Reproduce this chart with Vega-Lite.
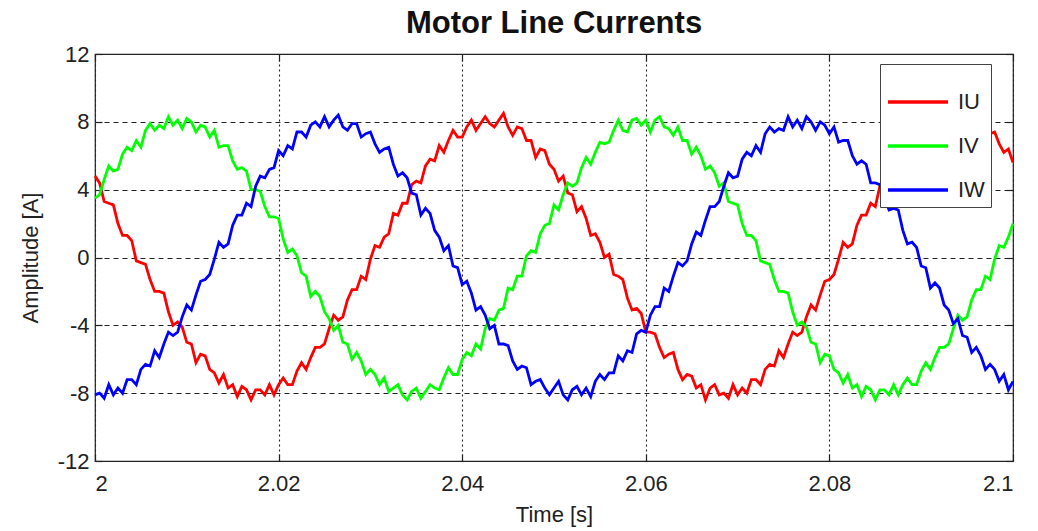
{
"$schema":"https://vega.github.io/schema/vega-lite/v6.json",
"width":918,"height":407,
"autosize":"none",
"padding":{"left":95,"top":54,"right":25,"bottom":70},
"background":"white",
"title":{"text":"Motor Line Currents","fontSize":31,"fontWeight":"bold","font":"Liberation Sans","color":"#111","offset":3,"anchor":"middle"},
"config":{
"view":{"stroke":"#222","strokeWidth":1.2},
"axis":{"labelFont":"Liberation Sans","labelFontSize":22,"labelColor":"#222","titleFont":"Liberation Sans","titleFontSize":22,"titleFontWeight":"normal","titleColor":"#222","gridColor":"#222","gridWidth":1.1,"gridOpacity":1,"tickColor":"#222","tickSize":-7,"tickWidth":1.2,"domain":false}
},
"data":{"values":[
{"t":2,"p":"IU","a":4.8},{"t":2.0005,"p":"IU","a":4.4},{"t":2.001,"p":"IU","a":3.3},{"t":2.0015,"p":"IU","a":3.2},{"t":2.002,"p":"IU","a":3.1},{"t":2.0025,"p":"IU","a":2.0},{"t":2.003,"p":"IU","a":1.3},{"t":2.0035,"p":"IU","a":1.3},{"t":2.004,"p":"IU","a":1.0},{"t":2.0045,"p":"IU","a":-0.2},
{"t":2.005,"p":"IU","a":-0.3},{"t":2.0055,"p":"IU","a":-0.4},{"t":2.006,"p":"IU","a":-1.3},{"t":2.0065,"p":"IU","a":-2.0},{"t":2.007,"p":"IU","a":-2.0},{"t":2.0075,"p":"IU","a":-2.1},{"t":2.008,"p":"IU","a":-3.2},{"t":2.0085,"p":"IU","a":-4.0},{"t":2.009,"p":"IU","a":-3.8},{"t":2.0095,"p":"IU","a":-4.1},
{"t":2.01,"p":"IU","a":-5.0},{"t":2.0105,"p":"IU","a":-5.1},{"t":2.011,"p":"IU","a":-6.2},{"t":2.0115,"p":"IU","a":-5.7},{"t":2.012,"p":"IU","a":-5.8},{"t":2.0125,"p":"IU","a":-6.6},{"t":2.013,"p":"IU","a":-6.8},{"t":2.0135,"p":"IU","a":-7.4},{"t":2.014,"p":"IU","a":-6.9},{"t":2.0145,"p":"IU","a":-7.7},
{"t":2.015,"p":"IU","a":-7.5},{"t":2.0155,"p":"IU","a":-8.2},{"t":2.016,"p":"IU","a":-7.6},{"t":2.0165,"p":"IU","a":-7.8},{"t":2.017,"p":"IU","a":-8.4},{"t":2.0175,"p":"IU","a":-7.8},{"t":2.018,"p":"IU","a":-7.8},{"t":2.0185,"p":"IU","a":-8.1},{"t":2.019,"p":"IU","a":-7.5},{"t":2.0195,"p":"IU","a":-8.1},
{"t":2.02,"p":"IU","a":-7.5},{"t":2.0205,"p":"IU","a":-7.1},{"t":2.021,"p":"IU","a":-7.5},{"t":2.0215,"p":"IU","a":-7.5},{"t":2.022,"p":"IU","a":-6.7},{"t":2.0225,"p":"IU","a":-6.2},{"t":2.023,"p":"IU","a":-6.6},{"t":2.0235,"p":"IU","a":-5.9},{"t":2.024,"p":"IU","a":-5.3},{"t":2.0245,"p":"IU","a":-5.3},
{"t":2.025,"p":"IU","a":-5.1},{"t":2.0255,"p":"IU","a":-4.2},{"t":2.026,"p":"IU","a":-3.4},{"t":2.0265,"p":"IU","a":-3.7},{"t":2.027,"p":"IU","a":-3.5},{"t":2.0275,"p":"IU","a":-2.5},{"t":2.028,"p":"IU","a":-1.9},{"t":2.0285,"p":"IU","a":-1.9},{"t":2.029,"p":"IU","a":-1.1},{"t":2.0295,"p":"IU","a":-1.3},
{"t":2.03,"p":"IU","a":-0.1},{"t":2.0305,"p":"IU","a":0.7},{"t":2.031,"p":"IU","a":0.6},{"t":2.0315,"p":"IU","a":1.2},{"t":2.032,"p":"IU","a":1.4},{"t":2.0325,"p":"IU","a":2.6},{"t":2.033,"p":"IU","a":2.5},{"t":2.0335,"p":"IU","a":3.2},{"t":2.034,"p":"IU","a":3.2},{"t":2.0345,"p":"IU","a":4.3},
{"t":2.035,"p":"IU","a":4.5},{"t":2.0355,"p":"IU","a":4.4},{"t":2.036,"p":"IU","a":5.4},{"t":2.0365,"p":"IU","a":5.8},{"t":2.037,"p":"IU","a":5.7},{"t":2.0375,"p":"IU","a":6.6},{"t":2.038,"p":"IU","a":6.2},{"t":2.0385,"p":"IU","a":6.9},{"t":2.039,"p":"IU","a":7.5},{"t":2.0395,"p":"IU","a":7.1},
{"t":2.04,"p":"IU","a":7.1},{"t":2.0405,"p":"IU","a":7.7},{"t":2.041,"p":"IU","a":8.1},{"t":2.0415,"p":"IU","a":7.5},{"t":2.042,"p":"IU","a":7.9},{"t":2.0425,"p":"IU","a":8.3},{"t":2.043,"p":"IU","a":7.9},{"t":2.0435,"p":"IU","a":7.7},{"t":2.044,"p":"IU","a":8.1},{"t":2.0445,"p":"IU","a":8.5},
{"t":2.045,"p":"IU","a":7.7},{"t":2.0455,"p":"IU","a":7.2},{"t":2.046,"p":"IU","a":7.7},{"t":2.0465,"p":"IU","a":7.6},{"t":2.047,"p":"IU","a":6.9},{"t":2.0475,"p":"IU","a":6.9},{"t":2.048,"p":"IU","a":5.9},{"t":2.0485,"p":"IU","a":6.4},{"t":2.049,"p":"IU","a":6.3},{"t":2.0495,"p":"IU","a":5.5},
{"t":2.05,"p":"IU","a":5.2},{"t":2.0505,"p":"IU","a":4.5},{"t":2.051,"p":"IU","a":4.8},{"t":2.0515,"p":"IU","a":3.8},{"t":2.052,"p":"IU","a":3.7},{"t":2.0525,"p":"IU","a":2.7},{"t":2.053,"p":"IU","a":3.0},{"t":2.0535,"p":"IU","a":2.3},{"t":2.054,"p":"IU","a":1.3},{"t":2.0545,"p":"IU","a":1.4},
{"t":2.055,"p":"IU","a":0.9},{"t":2.0555,"p":"IU","a":0.0},{"t":2.056,"p":"IU","a":0.2},{"t":2.0565,"p":"IU","a":-1.0},{"t":2.057,"p":"IU","a":-1.1},{"t":2.0575,"p":"IU","a":-1.3},{"t":2.058,"p":"IU","a":-2.4},{"t":2.0585,"p":"IU","a":-3.1},{"t":2.059,"p":"IU","a":-3.0},{"t":2.0595,"p":"IU","a":-3.3},
{"t":2.06,"p":"IU","a":-4.4},{"t":2.0605,"p":"IU","a":-4.4},{"t":2.061,"p":"IU","a":-4.5},{"t":2.0615,"p":"IU","a":-5.3},{"t":2.062,"p":"IU","a":-5.9},{"t":2.0625,"p":"IU","a":-5.7},{"t":2.063,"p":"IU","a":-5.6},{"t":2.0635,"p":"IU","a":-6.6},{"t":2.064,"p":"IU","a":-7.2},{"t":2.0645,"p":"IU","a":-6.9},
{"t":2.065,"p":"IU","a":-7.0},{"t":2.0655,"p":"IU","a":-7.7},{"t":2.066,"p":"IU","a":-7.5},{"t":2.0665,"p":"IU","a":-8.4},{"t":2.067,"p":"IU","a":-7.7},{"t":2.0675,"p":"IU","a":-7.5},{"t":2.068,"p":"IU","a":-8.1},{"t":2.0685,"p":"IU","a":-8.0},{"t":2.069,"p":"IU","a":-8.3},{"t":2.0695,"p":"IU","a":-7.5},
{"t":2.07,"p":"IU","a":-8.1},{"t":2.0705,"p":"IU","a":-7.7},{"t":2.071,"p":"IU","a":-8.0},{"t":2.0715,"p":"IU","a":-7.2},{"t":2.072,"p":"IU","a":-7.2},{"t":2.0725,"p":"IU","a":-7.5},{"t":2.073,"p":"IU","a":-6.6},{"t":2.0735,"p":"IU","a":-6.3},{"t":2.074,"p":"IU","a":-6.4},{"t":2.0745,"p":"IU","a":-5.5},
{"t":2.075,"p":"IU","a":-5.9},{"t":2.0755,"p":"IU","a":-5.1},{"t":2.076,"p":"IU","a":-4.4},{"t":2.0765,"p":"IU","a":-4.6},{"t":2.077,"p":"IU","a":-4.4},{"t":2.0775,"p":"IU","a":-3.5},{"t":2.078,"p":"IU","a":-2.8},{"t":2.0785,"p":"IU","a":-3.1},{"t":2.079,"p":"IU","a":-2.2},{"t":2.0795,"p":"IU","a":-1.4},
{"t":2.08,"p":"IU","a":-1.3},{"t":2.0805,"p":"IU","a":-1.0},{"t":2.081,"p":"IU","a":-0.1},{"t":2.0815,"p":"IU","a":0.9},{"t":2.082,"p":"IU","a":0.6},{"t":2.0825,"p":"IU","a":0.8},{"t":2.083,"p":"IU","a":1.9},{"t":2.0835,"p":"IU","a":2.5},{"t":2.084,"p":"IU","a":2.5},{"t":2.0845,"p":"IU","a":3.2},
{"t":2.085,"p":"IU","a":3.0},{"t":2.0855,"p":"IU","a":4.2},{"t":2.086,"p":"IU","a":4.8},{"t":2.0865,"p":"IU","a":4.7},{"t":2.087,"p":"IU","a":5.2},{"t":2.0875,"p":"IU","a":5.3},{"t":2.088,"p":"IU","a":6.3},{"t":2.0885,"p":"IU","a":6.0},{"t":2.089,"p":"IU","a":6.6},{"t":2.0895,"p":"IU","a":6.4},
{"t":2.09,"p":"IU","a":7.4},{"t":2.0905,"p":"IU","a":7.4},{"t":2.091,"p":"IU","a":7.1},{"t":2.0915,"p":"IU","a":7.8},{"t":2.092,"p":"IU","a":8.0},{"t":2.0925,"p":"IU","a":7.7},{"t":2.093,"p":"IU","a":8.3},{"t":2.0935,"p":"IU","a":7.7},{"t":2.094,"p":"IU","a":8.1},{"t":2.0945,"p":"IU","a":8.4},
{"t":2.095,"p":"IU","a":7.7},{"t":2.0955,"p":"IU","a":7.5},{"t":2.096,"p":"IU","a":7.9},{"t":2.0965,"p":"IU","a":7.9},{"t":2.097,"p":"IU","a":7.1},{"t":2.0975,"p":"IU","a":7.3},{"t":2.098,"p":"IU","a":7.4},{"t":2.0985,"p":"IU","a":6.7},{"t":2.099,"p":"IU","a":6.2},{"t":2.0995,"p":"IU","a":6.4},
{"t":2.1,"p":"IU","a":5.6},
{"t":2,"p":"IV","a":3.5},{"t":2.0005,"p":"IV","a":3.7},{"t":2.001,"p":"IV","a":4.6},{"t":2.0015,"p":"IV","a":5.4},{"t":2.002,"p":"IV","a":5.1},{"t":2.0025,"p":"IV","a":5.2},{"t":2.003,"p":"IV","a":6.1},{"t":2.0035,"p":"IV","a":6.5},{"t":2.004,"p":"IV","a":6.3},{"t":2.0045,"p":"IV","a":6.9},
{"t":2.005,"p":"IV","a":6.5},{"t":2.0055,"p":"IV","a":7.5},{"t":2.006,"p":"IV","a":7.9},{"t":2.0065,"p":"IV","a":7.5},{"t":2.007,"p":"IV","a":7.8},{"t":2.0075,"p":"IV","a":7.6},{"t":2.008,"p":"IV","a":8.3},{"t":2.0085,"p":"IV","a":7.8},{"t":2.009,"p":"IV","a":8.1},{"t":2.0095,"p":"IV","a":7.6},
{"t":2.01,"p":"IV","a":8.2},{"t":2.0105,"p":"IV","a":8.0},{"t":2.011,"p":"IV","a":7.4},{"t":2.0115,"p":"IV","a":7.8},{"t":2.012,"p":"IV","a":7.7},{"t":2.0125,"p":"IV","a":7.1},{"t":2.013,"p":"IV","a":7.5},{"t":2.0135,"p":"IV","a":6.5},{"t":2.014,"p":"IV","a":6.6},{"t":2.0145,"p":"IV","a":6.6},
{"t":2.015,"p":"IV","a":5.7},{"t":2.0155,"p":"IV","a":5.2},{"t":2.016,"p":"IV","a":5.3},{"t":2.0165,"p":"IV","a":5.1},{"t":2.017,"p":"IV","a":4.0},{"t":2.0175,"p":"IV","a":4.0},{"t":2.018,"p":"IV","a":3.9},{"t":2.0185,"p":"IV","a":3.0},{"t":2.019,"p":"IV","a":2.4},{"t":2.0195,"p":"IV","a":2.4},
{"t":2.02,"p":"IV","a":2.3},{"t":2.0205,"p":"IV","a":1.1},{"t":2.021,"p":"IV","a":0.3},{"t":2.0215,"p":"IV","a":0.5},{"t":2.022,"p":"IV","a":0.1},{"t":2.0225,"p":"IV","a":-0.9},{"t":2.023,"p":"IV","a":-1.1},{"t":2.0235,"p":"IV","a":-2.3},{"t":2.024,"p":"IV","a":-2.0},{"t":2.0245,"p":"IV","a":-2.3},
{"t":2.025,"p":"IV","a":-3.2},{"t":2.0255,"p":"IV","a":-3.6},{"t":2.026,"p":"IV","a":-4.3},{"t":2.0265,"p":"IV","a":-4.0},{"t":2.027,"p":"IV","a":-5.0},{"t":2.0275,"p":"IV","a":-5.1},{"t":2.028,"p":"IV","a":-6.0},{"t":2.0285,"p":"IV","a":-5.6},{"t":2.029,"p":"IV","a":-6.1},{"t":2.0295,"p":"IV","a":-6.9},
{"t":2.03,"p":"IV","a":-6.6},{"t":2.0305,"p":"IV","a":-6.9},{"t":2.031,"p":"IV","a":-7.5},{"t":2.0315,"p":"IV","a":-7.1},{"t":2.032,"p":"IV","a":-7.9},{"t":2.0325,"p":"IV","a":-7.7},{"t":2.033,"p":"IV","a":-7.5},{"t":2.0335,"p":"IV","a":-8.1},{"t":2.034,"p":"IV","a":-8.4},{"t":2.0345,"p":"IV","a":-7.9},
{"t":2.035,"p":"IV","a":-7.7},{"t":2.0355,"p":"IV","a":-8.3},{"t":2.036,"p":"IV","a":-7.9},{"t":2.0365,"p":"IV","a":-7.5},{"t":2.037,"p":"IV","a":-7.7},{"t":2.0375,"p":"IV","a":-7.8},{"t":2.038,"p":"IV","a":-7.1},{"t":2.0385,"p":"IV","a":-6.5},{"t":2.039,"p":"IV","a":-6.9},{"t":2.0395,"p":"IV","a":-6.9},
{"t":2.04,"p":"IV","a":-6.0},{"t":2.0405,"p":"IV","a":-5.6},{"t":2.041,"p":"IV","a":-5.8},{"t":2.0415,"p":"IV","a":-5.1},{"t":2.042,"p":"IV","a":-5.4},{"t":2.0425,"p":"IV","a":-4.2},{"t":2.043,"p":"IV","a":-3.6},{"t":2.0435,"p":"IV","a":-3.7},{"t":2.044,"p":"IV","a":-3.1},{"t":2.0445,"p":"IV","a":-3.0},
{"t":2.045,"p":"IV","a":-1.8},{"t":2.0455,"p":"IV","a":-1.9},{"t":2.046,"p":"IV","a":-1.1},{"t":2.0465,"p":"IV","a":-1.1},{"t":2.047,"p":"IV","a":0.1},{"t":2.0475,"p":"IV","a":0.4},{"t":2.048,"p":"IV","a":0.3},{"t":2.0485,"p":"IV","a":1.4},{"t":2.049,"p":"IV","a":1.9},{"t":2.0495,"p":"IV","a":2.0},
{"t":2.05,"p":"IV","a":3.1},{"t":2.0505,"p":"IV","a":2.8},{"t":2.051,"p":"IV","a":3.7},{"t":2.0515,"p":"IV","a":4.4},{"t":2.052,"p":"IV","a":4.2},{"t":2.0525,"p":"IV","a":4.4},{"t":2.053,"p":"IV","a":5.3},{"t":2.0535,"p":"IV","a":5.9},{"t":2.054,"p":"IV","a":5.5},{"t":2.0545,"p":"IV","a":6.2},
{"t":2.055,"p":"IV","a":6.8},{"t":2.0555,"p":"IV","a":6.7},{"t":2.056,"p":"IV","a":6.8},{"t":2.0565,"p":"IV","a":7.5},{"t":2.057,"p":"IV","a":8.1},{"t":2.0575,"p":"IV","a":7.5},{"t":2.058,"p":"IV","a":7.4},{"t":2.0585,"p":"IV","a":8.1},{"t":2.059,"p":"IV","a":8.2},{"t":2.0595,"p":"IV","a":7.8},
{"t":2.06,"p":"IV","a":8.1},{"t":2.0605,"p":"IV","a":7.4},{"t":2.061,"p":"IV","a":8.1},{"t":2.0615,"p":"IV","a":8.3},{"t":2.062,"p":"IV","a":7.7},{"t":2.0625,"p":"IV","a":7.6},{"t":2.063,"p":"IV","a":7.2},{"t":2.0635,"p":"IV","a":7.7},{"t":2.064,"p":"IV","a":6.9},{"t":2.0645,"p":"IV","a":6.9},
{"t":2.065,"p":"IV","a":6.1},{"t":2.0655,"p":"IV","a":6.5},{"t":2.066,"p":"IV","a":6.0},{"t":2.0665,"p":"IV","a":5.2},{"t":2.067,"p":"IV","a":5.4},{"t":2.0675,"p":"IV","a":5.0},{"t":2.068,"p":"IV","a":4.2},{"t":2.0685,"p":"IV","a":4.4},{"t":2.069,"p":"IV","a":3.3},{"t":2.0695,"p":"IV","a":3.2},
{"t":2.07,"p":"IV","a":3.1},{"t":2.0705,"p":"IV","a":2.0},{"t":2.071,"p":"IV","a":1.3},{"t":2.0715,"p":"IV","a":1.3},{"t":2.072,"p":"IV","a":1.0},{"t":2.0725,"p":"IV","a":-0.2},{"t":2.073,"p":"IV","a":-0.3},{"t":2.0735,"p":"IV","a":-0.4},{"t":2.074,"p":"IV","a":-1.3},{"t":2.0745,"p":"IV","a":-2.0},
{"t":2.075,"p":"IV","a":-2.0},{"t":2.0755,"p":"IV","a":-2.1},{"t":2.076,"p":"IV","a":-3.2},{"t":2.0765,"p":"IV","a":-4.0},{"t":2.077,"p":"IV","a":-3.8},{"t":2.0775,"p":"IV","a":-4.1},{"t":2.078,"p":"IV","a":-5.0},{"t":2.0785,"p":"IV","a":-5.1},{"t":2.079,"p":"IV","a":-6.2},{"t":2.0795,"p":"IV","a":-5.7},
{"t":2.08,"p":"IV","a":-5.8},{"t":2.0805,"p":"IV","a":-6.6},{"t":2.081,"p":"IV","a":-6.8},{"t":2.0815,"p":"IV","a":-7.4},{"t":2.082,"p":"IV","a":-6.9},{"t":2.0825,"p":"IV","a":-7.7},{"t":2.083,"p":"IV","a":-7.5},{"t":2.0835,"p":"IV","a":-8.2},{"t":2.084,"p":"IV","a":-7.6},{"t":2.0845,"p":"IV","a":-7.8},
{"t":2.085,"p":"IV","a":-8.4},{"t":2.0855,"p":"IV","a":-7.8},{"t":2.086,"p":"IV","a":-7.8},{"t":2.0865,"p":"IV","a":-8.1},{"t":2.087,"p":"IV","a":-7.5},{"t":2.0875,"p":"IV","a":-8.1},{"t":2.088,"p":"IV","a":-7.5},{"t":2.0885,"p":"IV","a":-7.1},{"t":2.089,"p":"IV","a":-7.5},{"t":2.0895,"p":"IV","a":-7.5},
{"t":2.09,"p":"IV","a":-6.7},{"t":2.0905,"p":"IV","a":-6.2},{"t":2.091,"p":"IV","a":-6.6},{"t":2.0915,"p":"IV","a":-5.9},{"t":2.092,"p":"IV","a":-5.3},{"t":2.0925,"p":"IV","a":-5.3},{"t":2.093,"p":"IV","a":-5.1},{"t":2.0935,"p":"IV","a":-4.2},{"t":2.094,"p":"IV","a":-3.4},{"t":2.0945,"p":"IV","a":-3.7},
{"t":2.095,"p":"IV","a":-3.5},{"t":2.0955,"p":"IV","a":-2.5},{"t":2.096,"p":"IV","a":-1.9},{"t":2.0965,"p":"IV","a":-1.9},{"t":2.097,"p":"IV","a":-1.1},{"t":2.0975,"p":"IV","a":-1.3},{"t":2.098,"p":"IV","a":-0.1},{"t":2.0985,"p":"IV","a":0.7},{"t":2.099,"p":"IV","a":0.6},{"t":2.0995,"p":"IV","a":1.2},
{"t":2.1,"p":"IV","a":2.0},
{"t":2,"p":"IW","a":-8.1},{"t":2.0005,"p":"IW","a":-8.0},{"t":2.001,"p":"IW","a":-8.3},{"t":2.0015,"p":"IW","a":-7.5},{"t":2.002,"p":"IW","a":-8.1},{"t":2.0025,"p":"IW","a":-7.7},{"t":2.003,"p":"IW","a":-8.0},{"t":2.0035,"p":"IW","a":-7.2},{"t":2.004,"p":"IW","a":-7.2},{"t":2.0045,"p":"IW","a":-7.5},
{"t":2.005,"p":"IW","a":-6.6},{"t":2.0055,"p":"IW","a":-6.3},{"t":2.006,"p":"IW","a":-6.4},{"t":2.0065,"p":"IW","a":-5.5},{"t":2.007,"p":"IW","a":-5.9},{"t":2.0075,"p":"IW","a":-5.1},{"t":2.008,"p":"IW","a":-4.4},{"t":2.0085,"p":"IW","a":-4.6},{"t":2.009,"p":"IW","a":-4.4},{"t":2.0095,"p":"IW","a":-3.5},
{"t":2.01,"p":"IW","a":-2.8},{"t":2.0105,"p":"IW","a":-3.1},{"t":2.011,"p":"IW","a":-2.2},{"t":2.0115,"p":"IW","a":-1.4},{"t":2.012,"p":"IW","a":-1.3},{"t":2.0125,"p":"IW","a":-1.0},{"t":2.013,"p":"IW","a":-0.1},{"t":2.0135,"p":"IW","a":0.9},{"t":2.014,"p":"IW","a":0.6},{"t":2.0145,"p":"IW","a":0.8},
{"t":2.015,"p":"IW","a":1.9},{"t":2.0155,"p":"IW","a":2.5},{"t":2.016,"p":"IW","a":2.5},{"t":2.0165,"p":"IW","a":3.2},{"t":2.017,"p":"IW","a":3.0},{"t":2.0175,"p":"IW","a":4.2},{"t":2.018,"p":"IW","a":4.8},{"t":2.0185,"p":"IW","a":4.7},{"t":2.019,"p":"IW","a":5.2},{"t":2.0195,"p":"IW","a":5.3},
{"t":2.02,"p":"IW","a":6.3},{"t":2.0205,"p":"IW","a":6.0},{"t":2.021,"p":"IW","a":6.6},{"t":2.0215,"p":"IW","a":6.4},{"t":2.022,"p":"IW","a":7.4},{"t":2.0225,"p":"IW","a":7.4},{"t":2.023,"p":"IW","a":7.1},{"t":2.0235,"p":"IW","a":7.8},{"t":2.024,"p":"IW","a":8.0},{"t":2.0245,"p":"IW","a":7.7},
{"t":2.025,"p":"IW","a":8.3},{"t":2.0255,"p":"IW","a":7.7},{"t":2.026,"p":"IW","a":8.1},{"t":2.0265,"p":"IW","a":8.4},{"t":2.027,"p":"IW","a":7.7},{"t":2.0275,"p":"IW","a":7.5},{"t":2.028,"p":"IW","a":7.9},{"t":2.0285,"p":"IW","a":7.9},{"t":2.029,"p":"IW","a":7.1},{"t":2.0295,"p":"IW","a":7.3},
{"t":2.03,"p":"IW","a":7.4},{"t":2.0305,"p":"IW","a":6.7},{"t":2.031,"p":"IW","a":6.2},{"t":2.0315,"p":"IW","a":6.4},{"t":2.032,"p":"IW","a":6.5},{"t":2.0325,"p":"IW","a":5.5},{"t":2.033,"p":"IW","a":4.8},{"t":2.0335,"p":"IW","a":5.0},{"t":2.034,"p":"IW","a":4.7},{"t":2.0345,"p":"IW","a":3.8},
{"t":2.035,"p":"IW","a":3.7},{"t":2.0355,"p":"IW","a":2.5},{"t":2.036,"p":"IW","a":2.9},{"t":2.0365,"p":"IW","a":2.6},{"t":2.037,"p":"IW","a":1.6},{"t":2.0375,"p":"IW","a":1.2},{"t":2.038,"p":"IW","a":0.4},{"t":2.0385,"p":"IW","a":0.7},{"t":2.039,"p":"IW","a":-0.5},{"t":2.0395,"p":"IW","a":-0.6},
{"t":2.04,"p":"IW","a":-1.6},{"t":2.0405,"p":"IW","a":-1.4},{"t":2.041,"p":"IW","a":-2.1},{"t":2.0415,"p":"IW","a":-3.1},{"t":2.042,"p":"IW","a":-2.9},{"t":2.0425,"p":"IW","a":-3.4},{"t":2.043,"p":"IW","a":-4.2},{"t":2.0435,"p":"IW","a":-4.0},{"t":2.044,"p":"IW","a":-5.1},{"t":2.0445,"p":"IW","a":-5.1},
{"t":2.045,"p":"IW","a":-5.2},{"t":2.0455,"p":"IW","a":-6.1},{"t":2.046,"p":"IW","a":-6.6},{"t":2.0465,"p":"IW","a":-6.4},{"t":2.047,"p":"IW","a":-6.5},{"t":2.0475,"p":"IW","a":-7.5},{"t":2.048,"p":"IW","a":-7.3},{"t":2.0485,"p":"IW","a":-7.2},{"t":2.049,"p":"IW","a":-7.7},{"t":2.0495,"p":"IW","a":-8.1},
{"t":2.05,"p":"IW","a":-7.7},{"t":2.0505,"p":"IW","a":-7.3},{"t":2.051,"p":"IW","a":-8.1},{"t":2.0515,"p":"IW","a":-8.4},{"t":2.052,"p":"IW","a":-7.8},{"t":2.0525,"p":"IW","a":-7.6},{"t":2.053,"p":"IW","a":-8.1},{"t":2.0535,"p":"IW","a":-7.7},{"t":2.054,"p":"IW","a":-8.2},{"t":2.0545,"p":"IW","a":-7.3},
{"t":2.055,"p":"IW","a":-6.9},{"t":2.0555,"p":"IW","a":-7.2},{"t":2.056,"p":"IW","a":-6.8},{"t":2.0565,"p":"IW","a":-6.8},{"t":2.057,"p":"IW","a":-5.8},{"t":2.0575,"p":"IW","a":-6.1},{"t":2.058,"p":"IW","a":-5.5},{"t":2.0585,"p":"IW","a":-5.6},{"t":2.059,"p":"IW","a":-4.5},{"t":2.0595,"p":"IW","a":-4.3},
{"t":2.06,"p":"IW","a":-4.4},{"t":2.0605,"p":"IW","a":-3.4},{"t":2.061,"p":"IW","a":-2.9},{"t":2.0615,"p":"IW","a":-2.9},{"t":2.062,"p":"IW","a":-1.8},{"t":2.0625,"p":"IW","a":-2.0},{"t":2.063,"p":"IW","a":-1.1},{"t":2.0635,"p":"IW","a":-0.3},{"t":2.064,"p":"IW","a":-0.5},{"t":2.0645,"p":"IW","a":-0.2},
{"t":2.065,"p":"IW","a":0.8},{"t":2.0655,"p":"IW","a":1.5},{"t":2.066,"p":"IW","a":1.3},{"t":2.0665,"p":"IW","a":2.2},{"t":2.067,"p":"IW","a":3.0},{"t":2.0675,"p":"IW","a":3.0},{"t":2.068,"p":"IW","a":3.3},{"t":2.0685,"p":"IW","a":4.2},{"t":2.069,"p":"IW","a":5.0},{"t":2.0695,"p":"IW","a":4.7},
{"t":2.07,"p":"IW","a":4.8},{"t":2.0705,"p":"IW","a":5.8},{"t":2.071,"p":"IW","a":6.2},{"t":2.0715,"p":"IW","a":6.0},{"t":2.072,"p":"IW","a":6.6},{"t":2.0725,"p":"IW","a":6.2},{"t":2.073,"p":"IW","a":7.3},{"t":2.0735,"p":"IW","a":7.7},{"t":2.074,"p":"IW","a":7.4},{"t":2.0745,"p":"IW","a":7.6},
{"t":2.075,"p":"IW","a":7.5},{"t":2.0755,"p":"IW","a":8.3},{"t":2.076,"p":"IW","a":7.7},{"t":2.0765,"p":"IW","a":8.1},{"t":2.077,"p":"IW","a":7.6},{"t":2.0775,"p":"IW","a":8.3},{"t":2.078,"p":"IW","a":8.0},{"t":2.0785,"p":"IW","a":7.5},{"t":2.079,"p":"IW","a":8.0},{"t":2.0795,"p":"IW","a":7.8},
{"t":2.08,"p":"IW","a":7.3},{"t":2.0805,"p":"IW","a":7.7},{"t":2.081,"p":"IW","a":6.8},{"t":2.0815,"p":"IW","a":6.9},{"t":2.082,"p":"IW","a":6.9},{"t":2.0825,"p":"IW","a":6.0},{"t":2.083,"p":"IW","a":5.5},{"t":2.0835,"p":"IW","a":5.7},{"t":2.084,"p":"IW","a":5.5},{"t":2.0845,"p":"IW","a":4.4},
{"t":2.085,"p":"IW","a":4.4},{"t":2.0855,"p":"IW","a":4.3},{"t":2.086,"p":"IW","a":3.5},{"t":2.0865,"p":"IW","a":2.8},{"t":2.087,"p":"IW","a":2.9},{"t":2.0875,"p":"IW","a":2.8},{"t":2.088,"p":"IW","a":1.6},{"t":2.0885,"p":"IW","a":0.8},{"t":2.089,"p":"IW","a":0.9},{"t":2.0895,"p":"IW","a":0.6},
{"t":2.09,"p":"IW","a":-0.5},{"t":2.0905,"p":"IW","a":-0.6},{"t":2.091,"p":"IW","a":-1.8},{"t":2.0915,"p":"IW","a":-1.5},{"t":2.092,"p":"IW","a":-1.8},{"t":2.0925,"p":"IW","a":-2.8},{"t":2.093,"p":"IW","a":-3.1},{"t":2.0935,"p":"IW","a":-3.9},{"t":2.094,"p":"IW","a":-3.6},{"t":2.0945,"p":"IW","a":-4.6},
{"t":2.095,"p":"IW","a":-4.7},{"t":2.0955,"p":"IW","a":-5.6},{"t":2.096,"p":"IW","a":-5.3},{"t":2.0965,"p":"IW","a":-5.8},{"t":2.097,"p":"IW","a":-6.6},{"t":2.0975,"p":"IW","a":-6.3},{"t":2.098,"p":"IW","a":-6.6},{"t":2.0985,"p":"IW","a":-7.3},{"t":2.099,"p":"IW","a":-6.9},{"t":2.0995,"p":"IW","a":-7.8},
{"t":2.1,"p":"IW","a":-7.3}
]},
"layer":[
{"mark":{"type":"line","strokeWidth":2.8},
"encoding":{
"x":{"field":"t","type":"quantitative","title":"Time [s]","scale":{"domain":[2,2.1],"nice":false,"zero":false},
"axis":{"orient":"bottom","values":[2,2.02,2.04,2.06,2.08,2.1],"labelExpr":"''+datum.value","grid":true,"gridDash":[2,3],"labelPadding":19,"titlePadding":10}},
"y":{"field":"a","type":"quantitative","title":"Amplitude [A]","scale":{"domain":[-12,12],"nice":false,"zero":false},
"axis":{"orient":"left","values":[-12,-8,-4,0,4,8,12],"labelExpr":"''+datum.value","grid":true,"gridDash":[5,4],"labelPadding":13,"titlePadding":15}},
"color":{"field":"p","type":"nominal","scale":{"domain":["IU","IV","IW"],"range":["#ff0000","#00ff00","#0000ff"]},
"legend":{"orient":"none","legendX":785,"legendY":10,"title":null,"symbolType":"stroke","symbolSize":3600,"symbolStrokeWidth":3.5,"labelFontSize":22,"labelFont":"Liberation Sans","labelColor":"#222","strokeColor":"#444","fillColor":"white","padding":6,"rowPadding":1,"labelOffset":8}}
}},
{"mark":{"type":"point","opacity":0},
"encoding":{
"x":{"field":"t","type":"quantitative","axis":{"orient":"top","values":[2,2.02,2.04,2.06,2.08,2.1],"labels":false,"title":null,"grid":false}},
"y":{"field":"a","type":"quantitative","axis":{"orient":"right","values":[-12,-8,-4,0,4,8,12],"labels":false,"title":null,"grid":false}}
}}
],
"resolve":{"axis":{"x":"independent","y":"independent"}}
}
